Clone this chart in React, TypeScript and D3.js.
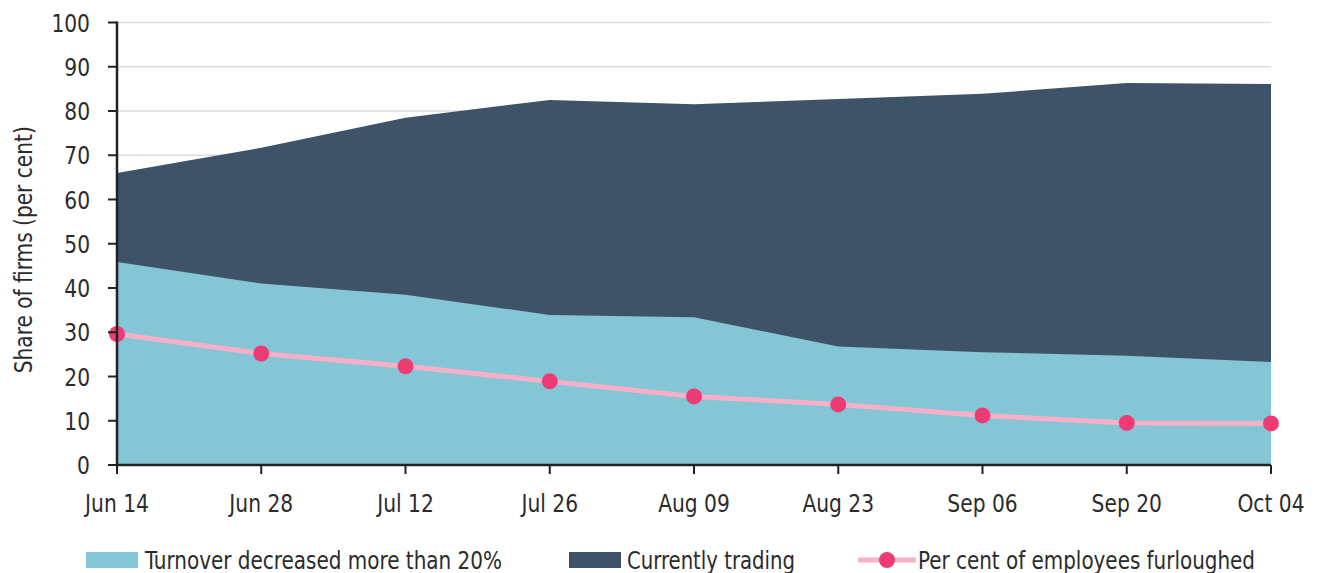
import React from "react";
import * as d3 from "d3";

const categories = ["Jun 14", "Jun 28", "Jul 12", "Jul 26", "Aug 09", "Aug 23", "Sep 06", "Sep 20", "Oct 04"];
const currentlyTrading = [66.0, 71.7, 78.5, 82.5, 81.5, 82.7, 83.9, 86.3, 86.1];
const turnoverDecreased = [45.9, 41.0, 38.5, 33.9, 33.4, 26.8, 25.5, 24.7, 23.3];
const furloughed = [29.6, 25.2, 22.3, 18.9, 15.5, 13.7, 11.2, 9.5, 9.4];
const yTicks = [0, 10, 20, 30, 40, 50, 60, 70, 80, 90, 100];

const W = 1319;
const H = 573;
const M = { left: 117, right: 48, top: 22.5, bottom: 108 };
const FONT = "'Liberation Sans Narrow', 'DejaVu Sans Condensed', 'Roboto', sans-serif";
const TEXT = "#2b2b2b";
const LIGHT = "#85c6d6";
const DARK = "#3e5268";
const PINK = "#f7b0c8";
const DOT = "#ee3b74";
const SX = 0.9;

export default function App() {
  const x = d3.scalePoint<string>().domain(categories).range([M.left, W - M.right]);
  const y = d3.scaleLinear().domain([0, 100]).range([H - M.bottom, M.top]);
  const area = d3
    .area<number>()
    .x((_, i) => x(categories[i]) as number)
    .y0(y(0))
    .y1((d) => y(d));
  const line = d3
    .line<number>()
    .x((_, i) => x(categories[i]) as number)
    .y((d) => y(d));
  const x0 = M.left;
  const x1 = W - M.right;
  const yb = y(0);

  return (
    <div>
      <style>{`body{margin:0}`}</style>
      <svg width={W} height={H} style={{ display: "block", fontFamily: FONT }}>
        {yTicks.map((t) => (
          <line key={"g" + t} x1={x0} x2={x1} y1={y(t)} y2={y(t)} stroke="#dedede" strokeWidth={1.5} />
        ))}
        <path d={area(currentlyTrading) || ""} fill={DARK} />
        <path d={area(turnoverDecreased) || ""} fill={LIGHT} />
        <path d={line(furloughed) || ""} fill="none" stroke={PINK} strokeWidth={5} />
        {furloughed.map((v, i) => (
          <circle key={"c" + i} cx={x(categories[i])} cy={y(v)} r={8} fill={DOT} />
        ))}
        {/* y axis */}
        <line x1={x0} x2={x0} y1={y(100) - 1} y2={yb + 1} stroke="#222" strokeWidth={2.5} />
        {yTicks.map((t) => (
          <g key={"t" + t}>
            <line x1={x0 - 9} x2={x0} y1={y(t)} y2={y(t)} stroke="#222" strokeWidth={2} />
            <text
              transform={`translate(${x0 - 27}, ${y(t)}) scale(${SX},1)`}
              dy="0.36em"
              textAnchor="end"
              fontSize={25}
              fill={TEXT}
            >
              {t}
            </text>
          </g>
        ))}
        {/* x axis */}
        <line x1={x0} x2={x1} y1={yb} y2={yb} stroke="#222" strokeWidth={2.5} />
        {categories.map((c) => (
          <g key={"x" + c}>
            <line x1={x(c)} x2={x(c)} y1={yb} y2={yb + 9} stroke="#222" strokeWidth={2} />
            <text
              transform={`translate(${x(c)}, 512) scale(${SX},1)`}
              textAnchor="middle"
              fontSize={25}
              fill={TEXT}
            >
              {c}
            </text>
          </g>
        ))}
        <text
          transform={`translate(32, ${(y(0) + y(100)) / 2 + 6}) rotate(-90)`}
          textAnchor="middle"
          fontSize={24}
          textLength={247}
          lengthAdjust="spacingAndGlyphs"
          fill={TEXT}
        >
          Share of firms (per cent)
        </text>
        {/* legend */}
        <rect x={86} y={552} width={52} height={16} fill={LIGHT} />
        <text x={145} y={569} fontSize={25} textLength={357} lengthAdjust="spacingAndGlyphs" fill={TEXT}>
          Turnover decreased more than 20%
        </text>
        <rect x={569} y={552} width={52} height={16} fill={DARK} />
        <text x={627} y={569} fontSize={25} textLength={168} lengthAdjust="spacingAndGlyphs" fill={TEXT}>
          Currently trading
        </text>
        <line x1={858} x2={916} y1={560} y2={560} stroke={PINK} strokeWidth={5} />
        <circle cx={887} cy={560} r={8} fill={DOT} />
        <text x={918} y={569} fontSize={25} textLength={337} lengthAdjust="spacingAndGlyphs" fill={TEXT}>
          Per cent of employees furloughed
        </text>
      </svg>
    </div>
  );
}
